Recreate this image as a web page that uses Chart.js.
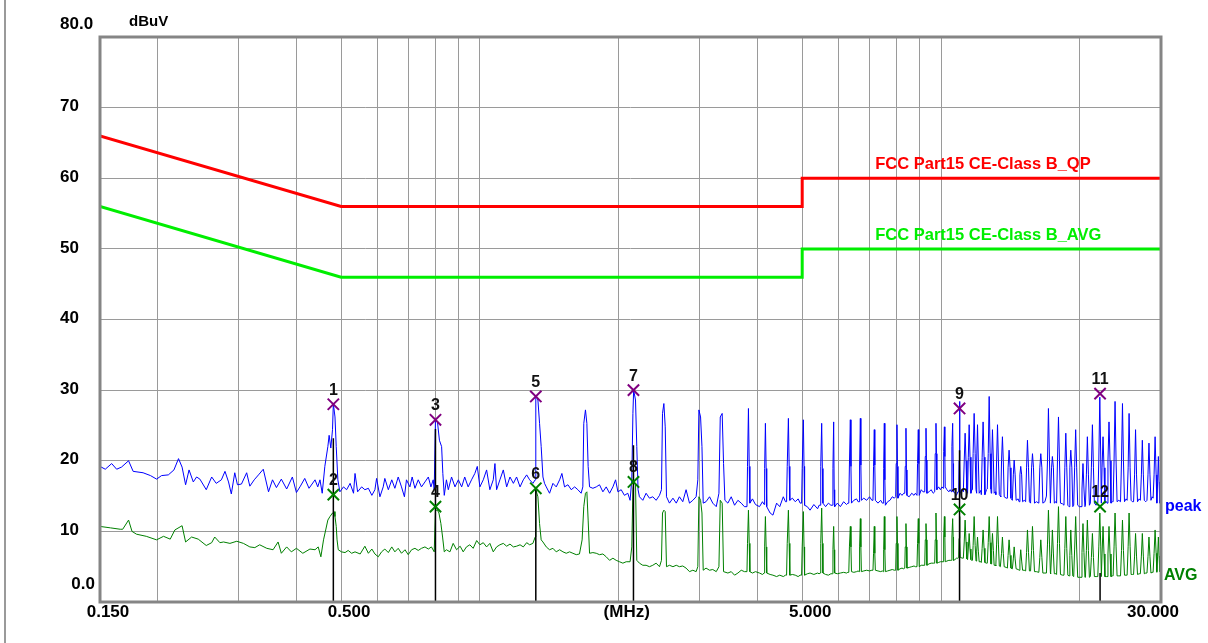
<!DOCTYPE html>
<html>
<head>
<meta charset="utf-8">
<title>Conducted emission 0.15-30 MHz</title>
<script src="https://cdn.jsdelivr.net/npm/chart.js@4.4.1/dist/chart.umd.min.js"></script>
<style>
  html, body { margin: 0; padding: 0; background: #fff; }
  #wrap { width: 1208px; height: 643px; }
</style>
</head>
<body>
<div id="wrap"><canvas id="chart" width="1208" height="643"></canvas></div>
<script>
// frequency in MHz, level in dBuV
const qpLimitFreq = [0.15, 0.5, 5, 5, 30];
const qpLimitLevel = [66, 56, 56, 60, 60];
const avgLimitFreq = [0.15, 0.5, 5, 5, 30];
const avgLimitLevel = [56, 46, 46, 50, 50];

const markerFreq = [0.481, 0.801, 1.322, 2.153, 10.97, 22.13];
const markerPeak = [28.0, 25.8, 29.1, 30.0, 27.4, 29.5];
const markerAvg = [15.2, 13.5, 16.1, 17.0, 13.1, 13.5];
const markerBarTop = [23.2, 24.5, 16.0, 22.2, 21.5, 4.1];
const markerPeakNo = ['1', '3', '5', '7', '9', '11'];
const markerAvgNo = ['2', '4', '6', '8', '10', '12'];

const yTicks = [80, 70, 60, 50, 40, 30, 20, 10, 0];
const yTickLabels = ['80.0', '70', '60', '50', '40', '30', '20', '10', '0.0'];
const xGridFreq = [0.2, 0.3, 0.4, 0.5, 0.6, 0.7, 0.8, 0.9, 1, 2, 3, 4, 5, 6, 7, 8, 9, 10, 20];
const xLabelFreq = [0.15, 0.5, 2, 5, 30];
const xLabels = ['0.150', '0.500', '(MHz)', '5.000', '30.000'];

const peakTrace = [
  [0.150,19.2],[0.154,18.8],[0.159,19.6],[0.163,18.8],[0.167,19.1],[0.173,20.0],[0.177,18.5],[0.186,18.3],
  [0.193,17.9],[0.199,17.4],[0.204,17.9],[0.211,18.0],[0.217,18.7],[0.222,20.3],[0.226,19.1],[0.230,16.6],
  [0.234,18.7],[0.239,17.0],[0.243,17.7],[0.247,17.4],[0.255,15.9],[0.262,17.7],[0.268,16.8],[0.275,17.3],
  [0.280,18.5],[0.285,17.0],[0.289,15.3],[0.294,18.3],[0.298,16.6],[0.304,16.7],[0.312,18.3],[0.317,16.4],
  [0.324,17.3],[0.331,18.0],[0.339,18.8],[0.348,15.6],[0.355,17.3],[0.362,16.2],[0.371,17.4],[0.381,16.0],
  [0.392,17.7],[0.400,15.5],[0.408,16.4],[0.417,17.5],[0.426,16.1],[0.439,17.3],[0.445,16.3],[0.450,17.3],
  [0.455,15.4],[0.461,19.2],[0.468,22.0],[0.471,23.6],[0.475,21.8],[0.479,24.4],[0.481,28.1],[0.485,26.2],
  [0.488,22.0],[0.492,17.3],[0.497,15.6],[0.506,16.3],[0.514,15.9],[0.523,16.8],[0.532,15.4],[0.536,18.2],
  [0.543,15.6],[0.554,16.3],[0.563,15.9],[0.573,16.1],[0.583,15.1],[0.592,15.9],[0.597,17.5],[0.607,14.9],
  [0.617,16.3],[0.622,17.5],[0.633,15.9],[0.644,17.3],[0.654,16.1],[0.665,17.7],[0.676,16.3],[0.686,14.9],
  [0.693,17.3],[0.705,16.3],[0.713,17.7],[0.723,16.1],[0.735,17.3],[0.747,16.3],[0.760,17.0],[0.773,17.7],
  [0.783,16.3],[0.792,17.3],[0.796,15.9],[0.801,25.8],[0.809,25.5],[0.817,22.9],[0.826,22.0],[0.831,18.2],
  [0.837,15.1],[0.846,17.3],[0.854,15.9],[0.868,17.7],[0.883,16.3],[0.898,17.3],[0.913,16.3],[0.927,17.7],
  [0.943,16.3],[0.959,17.3],[0.975,18.2],[0.987,19.2],[1.000,16.3],[1.017,17.3],[1.034,18.7],[1.051,15.9],
  [1.069,17.3],[1.078,19.6],[1.087,15.9],[1.105,17.3],[1.124,18.7],[1.143,16.3],[1.162,17.7],[1.182,16.8],
  [1.201,17.7],[1.222,16.3],[1.242,17.3],[1.263,18.0],[1.282,17.3],[1.303,16.8],[1.318,17.3],[1.322,29.3],
  [1.336,28.6],[1.347,25.3],[1.358,22.0],[1.370,17.7],[1.381,16.8],[1.393,16.3],[1.416,15.4],[1.440,16.8],
  [1.464,16.3],[1.489,17.3],[1.506,18.2],[1.526,16.3],[1.552,16.6],[1.578,15.9],[1.605,16.3],[1.631,15.9],
  [1.658,15.4],[1.672,16.3],[1.680,25.3],[1.694,27.2],[1.706,25.3],[1.717,19.2],[1.729,16.3],[1.758,16.1],
  [1.788,16.3],[1.817,16.6],[1.848,15.6],[1.879,16.3],[1.911,15.4],[1.943,16.3],[1.969,17.3],[1.992,15.6],
  [2.025,15.9],[2.058,15.1],[2.093,15.4],[2.117,14.4],[2.135,17.3],[2.147,26.7],[2.155,30.0],[2.175,28.6],
  [2.189,22.0],[2.203,15.9],[2.218,14.9],[2.256,14.4],[2.293,15.4],[2.332,14.7],[2.371,14.9],[2.411,14.4],
  [2.452,15.1],[2.476,15.9],[2.489,26.7],[2.506,28.1],[2.523,24.8],[2.539,14.9],[2.577,14.0],[2.622,14.7],
  [2.666,14.0],[2.708,14.9],[2.754,14.2],[2.800,15.9],[2.848,14.0],[2.896,14.4],[2.944,14.9],[2.969,17.3],
  [2.985,27.2],[3.010,26.2],[3.031,22.0],[3.050,14.0],[3.093,14.2],[3.148,14.9],[3.199,14.0],[3.255,13.5],
  [3.299,15.4],[3.321,26.2],[3.353,26.7],[3.376,19.6],[3.399,14.4],[3.450,14.0],[3.508,14.9],[3.567,13.7],
  [3.627,14.4],[3.688,14.0],[3.747,13.5],
  [3.795,13.5],[3.805,19.2],[3.823,27.4],[3.838,19.2],[3.850,14.0],[3.900,14.6],[3.960,13.8],[4.040,13.5],[4.100,14.2],
  [4.135,13.8],[4.145,18.9],[4.161,25.3],[4.176,18.9],[4.188,13.5],[4.260,12.6],[4.320,12.3],[4.400,14.0],[4.470,13.5],[4.550,14.9],[4.600,14.2],
  [4.625,14.2],[4.640,19.2],[4.667,26.0],[4.685,19.2],[4.700,14.4],[4.760,14.7],[4.830,14.2],[4.900,14.6],[4.950,14.0],
  [4.985,14.0],[5.000,18.9],[5.029,25.8],[5.046,19.2],[5.060,13.7],[5.130,13.5],[5.200,13.0],[5.300,13.8],[5.400,13.2],[5.440,13.7],
  [5.470,13.7],[5.485,19.2],[5.511,25.3],[5.530,18.9],[5.545,14.0],[5.620,13.5],[5.700,14.0],[5.770,13.7],
  [5.815,13.7],[5.830,18.9],[5.851,25.5],[5.866,15.9],[5.880,13.5],[5.960,14.0],[6.050,13.5],[6.150,14.2],[6.240,13.8],[6.280,14.0],
  [6.310,14.0],[6.330,19.4],[6.359,25.8],[6.378,19.2],[6.395,14.0],[6.470,14.4],[6.560,14.6],[6.610,14.2],
  [6.640,14.2],[6.660,19.4],[6.685,26.0],[6.702,19.4],[6.720,14.4],[6.800,14.7],[6.900,14.4],[7.000,14.9],[7.080,14.4],
  [7.120,14.4],[7.140,19.2],[7.167,24.4],[7.185,19.4],[7.205,14.4],[7.300,14.0],[7.400,14.4],[7.460,14.0],
  [7.490,14.0],[7.510,18.9],[7.535,25.3],[7.555,17.3],[7.575,13.7],[7.660,14.2],[7.750,14.4],[7.840,14.9],[7.920,14.7],
  [7.975,14.9],[7.995,19.6],[8.026,25.1],[8.045,19.2],[8.065,14.7],[8.150,15.4],[8.230,15.1],[8.300,15.4],
  [8.345,15.4],[8.365,19.2],[8.395,24.6],[8.415,18.7],[8.435,15.1],[8.530,14.9],[8.640,15.4],[8.740,15.1],[8.800,15.4],
  [8.870,15.1],[8.895,19.6],[8.928,24.4],[8.950,19.6],[8.970,15.1],[9.060,15.9],[9.140,15.6],
  [9.220,15.6],[9.245,20.6],[9.278,24.6],[9.300,20.1],[9.320,15.4],[9.420,15.6],[9.520,15.9],[9.620,15.4],
  [9.690,15.6],[9.715,21.0],[9.752,25.3],[9.775,21.0],[9.795,15.9],[9.880,16.3],[9.970,15.9],[10.05,16.3],
  [10.11,16.1],[10.135,21.3],[10.17,24.8],[10.195,20.6],[10.215,16.3],[10.30,15.9],[10.40,15.6],[10.47,15.9],
  [10.535,15.6],[10.56,22.0],[10.60,25.3],[10.625,19.6],[10.645,15.6],[10.72,15.4],[10.80,15.1],[10.88,15.6],
  [10.925,15.6],[10.945,20.0],[10.97,28.4],[10.99,20.0],[11.01,15.4],
  [11.05,15.4],[11.15,15.9],[11.18,15.6],[11.23,20.0],[11.28,23.9],[11.33,20.0],[11.38,15.6],
  [11.42,15.4],[11.46,20.5],[11.51,25.1],[11.56,20.5],[11.61,15.4],
  [11.66,15.9],[11.70,15.9],[11.74,21.0],[11.80,26.7],[11.86,21.0],[11.91,15.9],
  [11.94,15.4],[11.96,20.0],[12.00,25.1],[12.05,20.0],[12.10,15.4],
  [12.20,15.8],[12.23,15.2],[12.28,20.5],[12.34,25.5],[12.40,20.5],[12.45,15.2],
  [12.55,15.9],[12.60,16.0],[12.66,21.0],[12.72,29.1],[12.78,21.0],[12.83,16.0],
  [12.85,15.4],[12.88,20.0],[12.93,24.4],[12.99,20.0],[13.04,15.4],
  [13.12,15.6],[13.15,15.2],[13.20,20.0],[13.26,25.1],[13.32,20.0],[13.38,15.2],
  [13.45,15.0],[13.48,14.9],[13.53,20.0],[13.59,23.4],[13.65,20.0],[13.71,14.9],
  [13.85,14.7],[13.93,14.7],[13.98,19.0],[14.05,21.5],[14.12,19.0],[14.18,14.7],
  [14.28,14.4],[14.30,14.4],[14.35,18.0],[14.41,20.1],[14.48,18.0],[14.55,14.4],
  [14.70,14.6],[14.77,14.2],[14.83,18.0],[14.89,19.2],[14.96,18.0],[15.03,14.2],
  [15.15,14.4],[15.26,14.2],[15.33,19.0],[15.40,22.9],[15.48,19.0],[15.55,14.2],
  [15.64,14.0],[15.72,19.0],[15.79,21.0],[15.87,19.0],[15.95,14.0],
  [16.10,14.2],[16.30,14.0],[16.38,19.0],[16.46,21.0],[16.55,19.0],[16.63,14.0],
  [16.80,14.2],[16.93,15.0],[17.02,20.0],[17.10,27.4],[17.19,20.0],[17.27,14.0],
  [17.29,14.0],[17.37,19.0],[17.44,20.6],[17.53,19.0],[17.61,14.0],
  [17.75,14.2],[17.81,14.0],[17.89,20.0],[17.98,26.2],[18.07,20.0],[18.16,14.0],
  [18.35,13.9],[18.48,13.7],[18.56,19.0],[18.65,23.9],[18.74,19.0],[18.84,13.7],
  [18.95,13.5],[19.03,19.0],[19.12,21.5],[19.22,19.0],[19.31,13.5],
  [19.40,13.7],[19.49,19.0],[19.59,24.4],[19.69,19.0],[19.79,13.7],
  [19.95,13.5],[20.12,13.5],[20.22,16.0],[20.32,19.6],[20.42,16.0],[20.52,13.5],
  [20.57,13.7],[20.67,18.0],[20.77,23.4],[20.88,18.0],[20.98,13.7],
  [21.08,14.0],[21.19,19.0],[21.30,25.1],[21.41,19.0],[21.51,14.0],
  [21.70,13.7],[21.88,14.0],[21.99,20.0],[22.10,29.0],[22.21,20.0],[22.27,14.0],
  [22.35,19.0],[22.46,23.4],[22.57,19.0],[22.67,14.0],
  [22.85,14.2],[22.91,14.0],[23.02,20.0],[23.14,25.5],[23.26,20.0],[23.37,14.0],
  [23.55,14.2],[23.62,14.2],[23.73,20.0],[23.85,28.4],[23.97,20.0],[24.09,14.2],
  [24.30,14.4],[24.51,14.2],[24.63,20.0],[24.75,28.1],[24.87,20.0],[25.00,14.2],
  [25.20,14.6],[25.33,14.4],[25.46,19.0],[25.58,26.7],[25.71,19.0],[25.84,14.4],
  [26.00,14.2],[26.16,14.2],[26.29,18.0],[26.42,24.4],[26.55,18.0],[26.68,14.2],
  [26.90,14.6],[27.06,14.4],[27.20,18.0],[27.33,22.9],[27.47,18.0],[27.60,14.4],
  [27.80,14.2],[27.97,14.4],[28.11,18.0],[28.25,22.5],[28.39,18.0],[28.53,14.4],
  [28.70,14.9],[28.84,14.7],[28.98,18.0],[29.13,23.4],[29.28,18.0],[29.37,14.7],
  [29.40,14.0],[29.50,17.0],[29.61,20.6],[29.72,17.0],[29.82,14.0],[30.00,14.7]
];

const avgTrace = [
  [0.150,10.7],[0.158,10.5],[0.166,10.3],[0.168,10.3],[0.173,11.6],[0.176,10.0],[0.180,9.6],[0.189,9.3],
  [0.199,8.8],[0.206,9.3],[0.213,8.9],[0.218,10.2],[0.226,10.8],[0.230,8.5],[0.237,9.2],[0.245,8.9],
  [0.255,8.0],[0.262,8.4],[0.266,9.2],[0.273,8.4],[0.278,8.5],[0.287,8.3],[0.297,8.6],[0.307,8.3],
  [0.317,7.8],[0.325,7.7],[0.333,8.1],[0.345,7.6],[0.356,7.4],[0.365,8.5],[0.371,6.9],[0.381,7.8],
  [0.390,7.1],[0.400,7.6],[0.413,6.9],[0.428,7.5],[0.439,7.4],[0.446,7.8],[0.452,6.4],[0.458,8.8],
  [0.463,10.2],[0.468,11.6],[0.473,12.1],[0.479,12.6],[0.483,12.8],[0.485,12.1],[0.488,10.7],[0.490,8.8],
  [0.493,7.4],[0.501,7.1],[0.510,7.0],[0.518,7.3],[0.527,6.9],[0.536,7.1],[0.550,6.8],[0.563,7.9],
  [0.573,6.9],[0.583,7.5],[0.592,6.8],[0.602,6.4],[0.612,7.1],[0.622,7.5],[0.633,7.0],[0.644,7.8],
  [0.654,7.1],[0.665,7.6],[0.676,6.9],[0.688,7.4],[0.699,6.7],[0.711,7.4],[0.723,7.6],[0.735,7.3],
  [0.747,7.6],[0.760,7.8],[0.773,7.5],[0.785,7.8],[0.796,7.1],[0.801,13.0],[0.809,13.0],[0.815,12.6],
  [0.823,11.1],[0.830,9.2],[0.837,7.1],[0.846,7.4],[0.861,7.1],[0.875,8.3],[0.890,7.4],[0.906,7.9],
  [0.920,7.1],[0.935,7.8],[0.951,8.1],[0.967,7.6],[0.984,8.7],[1.000,8.1],[1.017,8.4],[1.034,7.8],
  [1.051,8.3],[1.069,7.1],[1.087,7.8],[1.105,8.1],[1.124,8.3],[1.143,7.9],[1.162,8.2],[1.182,7.8],
  [1.201,7.9],[1.222,8.1],[1.242,7.8],[1.263,8.4],[1.282,8.1],[1.303,8.3],[1.318,9.2],[1.322,15.9],
  [1.336,14.9],[1.347,11.1],[1.358,8.8],[1.370,8.5],[1.393,7.8],[1.416,7.4],[1.440,7.6],[1.464,7.1],
  [1.489,7.4],[1.514,7.1],[1.539,6.9],[1.565,7.1],[1.591,6.9],[1.618,6.7],[1.644,6.8],[1.666,8.8],
  [1.680,13.5],[1.694,15.4],[1.706,15.6],[1.717,11.6],[1.729,6.9],[1.758,7.0],[1.788,6.9],[1.817,6.7],
  [1.848,6.8],[1.879,6.4],[1.911,5.9],[1.943,6.2],[1.975,5.9],[2.008,5.7],[2.042,5.5],[2.076,5.7],
  [2.117,5.7],[2.135,7.8],[2.147,15.9],[2.155,16.8],[2.175,16.8],[2.189,5.9],[2.218,5.5],[2.256,5.2],
  [2.293,5.2],[2.332,5.0],[2.371,5.2],[2.411,5.5],[2.452,5.0],[2.476,5.9],[2.489,12.6],[2.506,13.0],
  [2.523,12.8],[2.539,5.0],[2.577,5.2],[2.622,5.0],[2.666,5.2],[2.708,5.0],[2.754,5.1],[2.800,4.8],
  [2.848,4.3],[2.896,4.5],[2.944,4.3],[2.969,5.0],[2.985,14.9],[3.010,14.4],[3.031,12.6],[3.050,4.5],
  [3.093,4.8],[3.148,4.5],[3.199,4.6],[3.255,4.3],[3.299,5.0],[3.321,14.4],[3.353,14.0],[3.376,4.3],
  [3.450,4.1],[3.508,4.3],[3.567,3.8],[3.627,4.1],[3.688,4.5],[3.747,4.3],
  [3.795,4.3],[3.805,8.3],[3.823,13.0],[3.838,8.3],[3.850,4.3],[3.900,4.1],[3.960,4.3],[4.040,4.1],[4.100,3.9],
  [4.135,4.1],[4.145,7.8],[4.161,12.1],[4.176,7.8],[4.188,4.1],[4.260,3.9],[4.320,3.8],[4.400,3.6],[4.470,3.8],[4.550,3.6],[4.600,3.8],
  [4.625,3.8],[4.640,8.3],[4.667,13.0],[4.685,8.3],[4.700,3.8],[4.760,3.9],[4.830,3.8],[4.900,3.6],[4.950,3.8],
  [4.985,3.8],[5.000,7.8],[5.029,12.8],[5.046,7.8],[5.060,3.8],[5.130,4.0],[5.200,4.1],[5.300,3.9],[5.400,4.1],[5.440,4.0],
  [5.470,4.1],[5.485,8.3],[5.511,13.3],[5.530,8.3],[5.545,4.1],[5.620,3.9],[5.700,3.8],[5.770,4.0],
  [5.815,4.0],[5.830,7.4],[5.851,10.7],[5.866,7.4],[5.880,4.1],[5.960,4.0],[6.050,4.1],[6.150,4.2],[6.240,4.1],[6.280,4.2],
  [6.310,4.2],[6.330,7.8],[6.359,10.7],[6.378,7.8],[6.395,4.3],[6.470,4.2],[6.560,4.3],[6.610,4.4],
  [6.640,4.3],[6.660,7.8],[6.685,11.8],[6.702,7.8],[6.720,4.3],[6.800,4.4],[6.900,4.5],[7.000,4.4],[7.080,4.5],
  [7.120,4.5],[7.140,6.9],[7.167,10.7],[7.185,6.9],[7.205,4.5],[7.300,4.4],[7.400,4.3],[7.460,4.4],
  [7.490,4.3],[7.510,7.4],[7.535,12.1],[7.555,7.4],[7.575,4.3],[7.660,4.4],[7.750,4.5],[7.840,4.6],[7.920,4.5],
  [7.975,4.5],[7.995,8.3],[8.026,12.1],[8.045,8.3],[8.065,4.5],[8.150,4.7],[8.230,4.8],[8.300,4.7],
  [8.345,4.8],[8.365,7.8],[8.395,11.1],[8.415,7.8],[8.435,4.8],[8.530,4.9],[8.640,5.0],[8.740,5.1],[8.800,5.0],
  [8.870,5.0],[8.895,8.3],[8.928,11.8],[8.950,8.3],[8.970,5.0],[9.060,5.2],[9.140,5.2],
  [9.220,5.2],[9.245,8.8],[9.278,11.1],[9.300,8.8],[9.320,5.2],[9.420,5.4],[9.520,5.5],[9.620,5.5],
  [9.690,5.5],[9.715,8.8],[9.752,12.6],[9.775,8.8],[9.795,5.5],[9.880,5.6],[9.970,5.7],[10.05,5.7],
  [10.11,5.7],[10.135,9.2],[10.17,12.1],[10.195,9.2],[10.215,5.7],[10.30,5.8],[10.40,5.9],[10.47,5.9],
  [10.535,5.9],[10.56,9.2],[10.60,11.8],[10.625,9.2],[10.645,5.9],[10.72,6.0],[10.80,6.2],[10.88,6.2],
  [10.925,6.3],[10.945,9.0],[10.97,12.1],[10.99,9.0],[11.01,6.3],
  [11.05,6.3],[11.15,6.2],[11.18,6.2],[11.23,8.5],[11.28,11.6],[11.33,8.5],[11.38,6.1],
  [11.42,6.0],[11.46,7.5],[11.51,9.7],[11.56,7.5],[11.61,6.0],
  [11.66,5.9],[11.70,5.9],[11.74,8.0],[11.80,12.1],[11.86,8.0],[11.91,5.8],
  [11.94,5.8],[11.96,7.2],[12.00,9.2],[12.05,7.2],[12.10,5.7],
  [12.20,5.7],[12.23,5.6],[12.28,7.6],[12.34,10.2],[12.40,7.6],[12.45,5.6],
  [12.55,5.5],[12.60,5.5],[12.66,8.4],[12.72,12.1],[12.78,8.4],[12.83,5.4],
  [12.85,5.4],[12.88,7.3],[12.93,9.7],[12.99,7.3],[13.04,5.2],
  [13.12,5.2],[13.15,5.1],[13.20,8.2],[13.26,12.1],[13.32,8.2],[13.38,5.1],
  [13.45,5.0],[13.48,5.0],[13.53,6.9],[13.59,9.2],[13.65,6.9],[13.71,5.0],
  [13.85,4.9],[13.93,4.8],[13.98,6.6],[14.05,8.8],[14.12,6.6],[14.18,4.8],
  [14.28,4.7],[14.30,4.7],[14.35,6.1],[14.41,7.8],[14.48,6.1],[14.55,4.7],
  [14.70,4.6],[14.77,4.5],[14.83,5.8],[14.89,7.4],[14.96,5.8],[15.03,4.5],
  [15.15,4.5],[15.26,4.4],[15.33,7.0],[15.40,10.2],[15.48,7.0],[15.55,4.4],
  [15.64,4.4],[15.72,7.3],[15.79,10.7],[15.87,7.3],[15.95,4.3],
  [16.10,4.3],[16.30,4.2],[16.38,6.3],[16.46,8.8],[16.55,6.3],[16.63,4.1],
  [16.80,4.1],[16.93,4.1],[17.02,8.2],[17.10,13.0],[17.19,8.2],[17.27,4.1],
  [17.29,4.0],[17.37,6.8],[17.44,10.2],[17.53,6.8],[17.61,4.0],
  [17.75,4.0],[17.81,3.9],[17.89,8.3],[17.98,13.5],[18.07,8.3],[18.16,3.9],
  [18.35,3.8],[18.48,3.8],[18.56,7.6],[18.65,12.1],[18.74,7.6],[18.84,3.8],
  [18.95,3.7],[19.03,6.6],[19.12,10.2],[19.22,6.6],[19.31,3.7],
  [19.40,3.6],[19.49,7.5],[19.59,12.1],[19.69,7.5],[19.79,3.5],
  [19.95,3.5],[20.12,3.5],[20.22,7.0],[20.32,11.1],[20.42,7.0],[20.52,3.5],
  [20.57,3.5],[20.67,7.3],[20.77,11.6],[20.88,7.3],[20.98,3.5],
  [21.08,3.6],[21.19,6.3],[21.30,9.7],[21.41,6.3],[21.51,3.6],
  [21.70,3.6],[21.88,3.6],[21.99,7.8],[22.10,12.6],[22.21,7.8],[22.27,3.6],
  [22.35,6.8],[22.46,10.7],[22.57,6.8],[22.67,3.6],
  [22.85,3.6],[22.91,3.6],[23.02,6.8],[23.14,10.7],[23.26,6.8],[23.37,3.6],
  [23.55,3.7],[23.62,3.7],[23.73,7.8],[23.85,12.6],[23.97,7.8],[24.09,3.7],
  [24.30,3.7],[24.51,3.7],[24.63,7.3],[24.75,11.6],[24.87,7.3],[25.00,3.8],
  [25.20,3.8],[25.33,3.8],[25.46,7.9],[25.58,12.6],[25.71,7.9],[25.84,3.9],
  [26.00,3.9],[26.16,3.9],[26.29,6.5],[26.42,9.7],[26.55,6.5],[26.68,3.9],
  [26.90,4.0],[27.06,4.0],[27.20,6.5],[27.33,9.7],[27.47,6.5],[27.60,4.0],
  [27.80,4.1],[27.97,4.1],[28.11,6.4],[28.25,9.2],[28.39,6.4],[28.53,4.1],
  [28.70,4.2],[28.84,4.2],[28.98,6.9],[29.13,10.2],[29.28,6.9],[29.37,4.2],
  [29.40,4.3],[29.50,6.5],[29.61,9.2],[29.72,6.5],[29.82,4.3],[30.00,4.6]
];

const FONT = '"Liberation Sans", Arial, sans-serif';
const pairs = arr => arr.map(([x, y]) => ({ x, y }));
const zip = (xs, ys) => xs.map((x, i) => ({ x, y: ys[i] }));

// reading bars at each marker frequency, broken with null
const barPoints = [];
markerFreq.forEach((f, i) => {
  barPoints.push({ x: f, y: 0 }, { x: f, y: markerBarTop[i] }, { x: f, y: null });
});

const overlay = {
  id: 'overlay',
  beforeDraw(chart) {
    const ctx = chart.ctx;
    ctx.save();
    ctx.fillStyle = '#fff';
    ctx.fillRect(0, 0, chart.width, chart.height);
    ctx.fillStyle = '#9a9a9a';
    ctx.fillRect(4, 0, 2, chart.height);
    ctx.restore();
  },
  afterDatasetsDraw(chart) {
    const { ctx, chartArea: a, scales: { x: xs, y: ys } } = chart;
    ctx.save();

    // plot frame
    ctx.strokeStyle = '#858585';
    ctx.lineWidth = 3;
    ctx.strokeRect(a.left, a.top, a.right - a.left, a.bottom - a.top);

    ctx.font = 'bold 17px ' + FONT;
    ctx.textBaseline = 'middle';
    ctx.fillStyle = '#000';

    // y labels
    yTicks.forEach((v, i) => {
      const py = ys.getPixelForValue(v);
      if (v === 80) {
        ctx.textAlign = 'left';
        ctx.fillText(yTickLabels[i], 60, py - 13);
      } else if (v === 0) {
        ctx.textAlign = 'right';
        ctx.fillText(yTickLabels[i], 95, py - 18);
      } else {
        ctx.textAlign = 'left';
        ctx.fillText(yTickLabels[i], 60, py - 1);
      }
    });

    // x labels
    xLabelFreq.forEach((f, i) => {
      const px = xs.getPixelForValue(f);
      if (i === xLabelFreq.length - 1) {
        ctx.textAlign = 'right';
        ctx.fillText(xLabels[i], px + 18, a.bottom + 10);
      } else {
        ctx.textAlign = 'center';
        ctx.fillText(xLabels[i], px + 8, a.bottom + 10);
      }
    });

    ctx.font = 'bold 15px ' + FONT;
    ctx.textAlign = 'left';
    ctx.fillText('dBuV', 129, 22);

    // limit names
    ctx.font = 'bold 16.5px ' + FONT;
    ctx.fillStyle = '#ff0000';
    ctx.fillText('FCC Part15 CE-Class B_QP', xs.getPixelForValue(7.2), ys.getPixelForValue(60) - 14);
    ctx.fillStyle = '#00ee00';
    ctx.fillText('FCC Part15 CE-Class B_AVG', xs.getPixelForValue(7.2), ys.getPixelForValue(50) - 13);

    // trace names
    ctx.font = 'bold 16px ' + FONT;
    ctx.fillStyle = '#0000ff';
    ctx.fillText('peak', a.right + 4, ys.getPixelForValue(13.5));
    ctx.fillStyle = '#008000';
    ctx.fillText('AVG', a.right + 3, ys.getPixelForValue(3.8));

    // marker numbers
    ctx.font = 'bold 16px ' + FONT;
    ctx.fillStyle = '#111';
    ctx.textAlign = 'center';
    ctx.textBaseline = 'bottom';
    [[0, markerPeakNo], [1, markerAvgNo]].forEach(([di, names]) => {
      chart.getDatasetMeta(di).data.forEach((pt, i) => {
        ctx.fillText(names[i], pt.x, pt.y - 6);
      });
    });
    ctx.restore();
  }
};

new Chart(document.getElementById('chart'), {
  type: 'scatter',
  data: {
    datasets: [
      { label: 'peak markers', data: zip(markerFreq, markerPeak), pointStyle: 'crossRot',
        pointRadius: 8, borderColor: '#800080', pointBorderWidth: 2, showLine: false },
      { label: 'avg markers', data: zip(markerFreq, markerAvg), pointStyle: 'crossRot',
        pointRadius: 8, borderColor: '#008000', pointBorderWidth: 2, showLine: false },
      { label: 'readings', data: barPoints, showLine: true, spanGaps: false, pointRadius: 0,
        borderColor: '#000', borderWidth: 1.5 },
      { label: 'peak', data: pairs(peakTrace), showLine: true, pointRadius: 0,
        borderColor: '#0000ff', borderWidth: 1 },
      { label: 'AVG', data: pairs(avgTrace), showLine: true, pointRadius: 0,
        borderColor: '#008000', borderWidth: 1 },
      { label: 'QP limit', data: zip(qpLimitFreq, qpLimitLevel), showLine: true, pointRadius: 0,
        borderColor: '#ff0000', borderWidth: 3 },
      { label: 'AVG limit', data: zip(avgLimitFreq, avgLimitLevel), showLine: true, pointRadius: 0,
        borderColor: '#00ee00', borderWidth: 3 }
    ]
  },
  options: {
    responsive: false,
    animation: false,
    layout: { padding: { left: 100, right: 47, top: 37, bottom: 41 } },
    plugins: { legend: { display: false }, tooltip: { enabled: false } },
    scales: {
      x: {
        type: 'logarithmic', min: 0.15, max: 30,
        afterBuildTicks: s => { s.ticks = xGridFreq.map(v => ({ value: v })); },
        afterFit: s => { s.height = 0; },
        ticks: { display: false },
        grid: { color: '#9a9a9a', lineWidth: 1, drawTicks: false },
        border: { display: false }
      },
      y: {
        type: 'linear', min: 0, max: 80,
        ticks: { display: false, stepSize: 10 },
        afterFit: s => { s.width = 0; },
        grid: { color: '#9a9a9a', lineWidth: 1, drawTicks: false },
        border: { display: false }
      }
    }
  },
  plugins: [overlay]
});
</script>
</body>
</html>
